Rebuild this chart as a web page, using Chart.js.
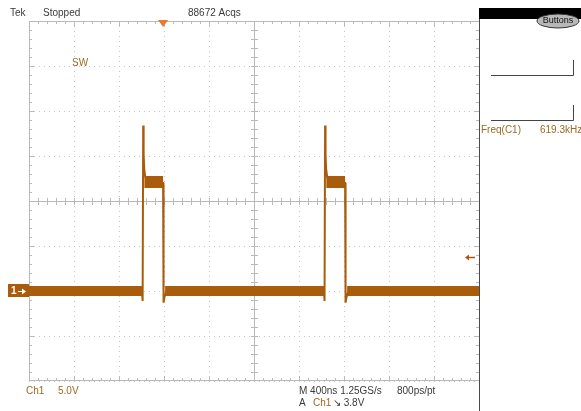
<!DOCTYPE html>
<html>
<head>
<meta charset="utf-8">
<script src="https://cdn.jsdelivr.net/npm/chart.js@4"></script>
<style>
  html, body { margin: 0; padding: 0; background: #fff; }
  #wrap { width: 581px; height: 411px; }
</style>
</head>
<body>
<div id="wrap"><canvas id="scope" width="581" height="411"></canvas></div>
<script>
// screen settings
const nsPerDiv = 400;
const voltsPerDiv = 5;

// thin trace (time in ns, level in V)
const traceTimeNs = [0, 1004, 1010, 1015, 1019, 1024, 1032, 1044, 1060, 1192, 1196, 1204, 1214, 1228,
                     2622, 2627, 2632, 2636, 2641, 2649, 2661, 2677, 2810, 2814, 2822, 2832, 2846, 4000];
const traceVolt = [0, 0, -1.1, 18.4, 15.2, 13.6, 12.8, 12.3, 12, 12, -1.3, -0.7, -0.3, 0,
                   0, -1.1, 18.4, 15.2, 13.6, 12.8, 12.3, 12, 12, -1.3, -0.7, -0.3, 0, 0];

// noise band around the low level
const lowBandTimeNs = [0, 1006, 1100, 1210, 2624, 2700, 2828, 4000];
const lowBandVolt = [0, 0, null, 0, 0, null, 0, 0];

// noise band around the high level
const highBandTimeNs = [1026, 1192, 1400, 2643, 2810];
const highBandVolt = [12.1, 12.1, null, 12.1, 12.1];

const traceColor = '#a85c0c';
const textBrown = '#9a6a22';
const textGrey = '#3a3a3a';

function pts(xs, ys) {
  return xs.map((x, i) => ({ x: x, y: ys[i] }));
}

const graticule = {
  id: 'graticule',
  beforeDatasetsDraw(chart) {
    const c = chart.ctx, a = chart.chartArea;
    const dx = (a.right - a.left) / 10, dy = (a.bottom - a.top) / 8;
    const cx = a.left + 5 * dx, cy = a.top + 4 * dy;
    c.save();
    c.strokeStyle = '#b9b9b9';
    c.lineWidth = 1;
    c.beginPath();
    c.moveTo(a.left, cy + 0.5); c.lineTo(a.right, cy + 0.5);
    c.moveTo(cx + 0.5, a.top); c.lineTo(cx + 0.5, a.bottom);
    c.moveTo(a.left, a.top + 0.5); c.lineTo(a.right, a.top + 0.5);
    c.moveTo(a.left, a.bottom - 0.5); c.lineTo(a.right, a.bottom - 0.5);
    c.moveTo(a.left + 0.5, a.top); c.lineTo(a.left + 0.5, a.bottom);
    // minor ticks every 1/5 division
    for (let i = 1; i < 50; i++) {
      const x = Math.round(a.left + i * dx / 5) + 0.5;
      const len = i % 5 === 0 ? 5 : 3;
      c.moveTo(x, cy - 3); c.lineTo(x, cy + 4);
      c.moveTo(x, a.top); c.lineTo(x, a.top + len);
      c.moveTo(x, a.bottom); c.lineTo(x, a.bottom - len);
    }
    for (let j = 1; j < 40; j++) {
      const y = Math.round(a.top + j * dy / 5) + 0.5;
      const len = j % 5 === 0 ? 5 : 3;
      c.moveTo(cx - 3, y); c.lineTo(cx + 4, y);
      c.moveTo(a.left, y); c.lineTo(a.left + len, y);
      c.moveTo(a.right, y); c.lineTo(a.right - len, y);
    }
    c.stroke();
    c.restore();
  },
  afterDraw(chart) {
    const c = chart.ctx, a = chart.chartArea;
    const xs = chart.scales.x, ys = chart.scales.y;
    c.save();
    // right panel separator
    c.strokeStyle = '#4a4a4a';
    c.lineWidth = 1;
    c.beginPath();
    c.moveTo(a.right + 0.5, a.top - 2); c.lineTo(a.right + 0.5, 411);
    c.stroke();
    // black header bar
    c.fillStyle = '#000';
    c.fillRect(a.right, 8, 581 - a.right, 11);
    // Buttons pill
    c.beginPath();
    c.ellipse(558, 21, 21, 7, 0, 0, Math.PI * 2);
    c.fillStyle = '#b8b8b8';
    c.fill();
    c.strokeStyle = '#333';
    c.lineWidth = 1;
    c.stroke();
    c.fillStyle = '#111';
    c.font = '9px "Liberation Sans", Arial, sans-serif';
    c.textAlign = 'center';
    c.textBaseline = 'middle';
    c.fillText('Buttons', 558, 21);
    // measurement boxes
    c.strokeStyle = '#444';
    c.beginPath();
    c.moveTo(491, 75.5); c.lineTo(573.5, 75.5); c.lineTo(573.5, 60);
    c.moveTo(491, 120.5); c.lineTo(573.5, 120.5); c.lineTo(573.5, 105);
    c.stroke();

    c.font = '10px "Liberation Sans", Arial, sans-serif';
    c.textAlign = 'left';
    c.fillStyle = textBrown;
    c.fillText('Freq(C1)', 481, 130);
    c.fillText('619.3kHz', 540, 130);
    c.fillText('SW', 72, 63);
    c.fillText('Ch1', 26, 391);
    c.fillText('5.0V', 58, 391);
    c.fillText('Ch1', 313, 403);

    c.fillStyle = textGrey;
    c.fillText('Tek', 10, 13);
    c.fillText('Stopped', 43, 13);
    c.fillText('88672 Acqs', 188, 13);
    c.fillText('M 400ns 1.25GS/s', 299, 391);
    c.fillText('800ps/pt', 397, 391);
    c.fillText('A', 299, 403);
    c.fillText('\u2198 3.8V', 333, 403);

    // trigger position marker
    const tx = xs.getPixelForValue(1192);
    c.fillStyle = '#e8782e';
    c.beginPath();
    c.moveTo(tx - 5, a.top - 1); c.lineTo(tx + 5, a.top - 1); c.lineTo(tx, a.top + 6);
    c.closePath();
    c.fill();

    // ground marker for channel 1
    const gy = ys.getPixelForValue(0);
    c.fillStyle = traceColor;
    c.fillRect(8, gy - 7, 21, 13);
    c.fillStyle = '#fff';
    c.font = 'bold 10px "Liberation Sans", Arial, sans-serif';
    c.fillText('1', 11, gy);
    c.beginPath();
    c.moveTo(18, gy + 0.5); c.lineTo(25, gy + 0.5);
    c.strokeStyle = '#fff';
    c.stroke();
    c.beginPath();
    c.moveTo(26, gy + 0.5); c.lineTo(22, gy - 2.5); c.lineTo(22, gy + 3.5);
    c.closePath();
    c.fill();

    // trigger level arrow
    const ly = Math.round(ys.getPixelForValue(3.8)) + 0.5;
    c.strokeStyle = traceColor;
    c.fillStyle = traceColor;
    c.lineWidth = 1.5;
    c.beginPath();
    c.moveTo(467, ly); c.lineTo(475, ly);
    c.stroke();
    c.beginPath();
    c.moveTo(465, ly); c.lineTo(469, ly - 3); c.lineTo(469, ly + 3);
    c.closePath();
    c.fill();
    c.restore();
  }
};

new Chart(document.getElementById('scope'), {
  type: 'line',
  data: {
    datasets: [
      { data: pts(lowBandTimeNs, lowBandVolt), borderColor: traceColor, borderWidth: 10,
        borderCapStyle: 'butt', pointRadius: 0, spanGaps: false },
      { data: pts(highBandTimeNs, highBandVolt), borderColor: traceColor, borderWidth: 12,
        borderCapStyle: 'butt', pointRadius: 0, spanGaps: false },
      { data: pts(traceTimeNs, traceVolt), borderColor: traceColor, borderWidth: 2,
        pointRadius: 0, tension: 0 }
    ]
  },
  options: {
    responsive: false,
    animation: false,
    devicePixelRatio: 1,
    layout: { padding: { left: 29, right: 102, top: 21, bottom: 30 } },
    plugins: { legend: { display: false }, tooltip: { enabled: false } },
    scales: {
      x: {
        type: 'linear', min: 0, max: 10 * nsPerDiv,
        ticks: { display: false, stepSize: nsPerDiv },
        grid: { color: '#c4c4c4', drawTicks: false },
        border: { display: false, dash: [1, 4] }
      },
      y: {
        type: 'linear', min: -2 * voltsPerDiv, max: 6 * voltsPerDiv,
        ticks: { display: false, stepSize: voltsPerDiv },
        grid: { color: '#c4c4c4', drawTicks: false },
        border: { display: false, dash: [1, 4] }
      }
    }
  },
  plugins: [graticule]
});
</script>
</body>
</html>
